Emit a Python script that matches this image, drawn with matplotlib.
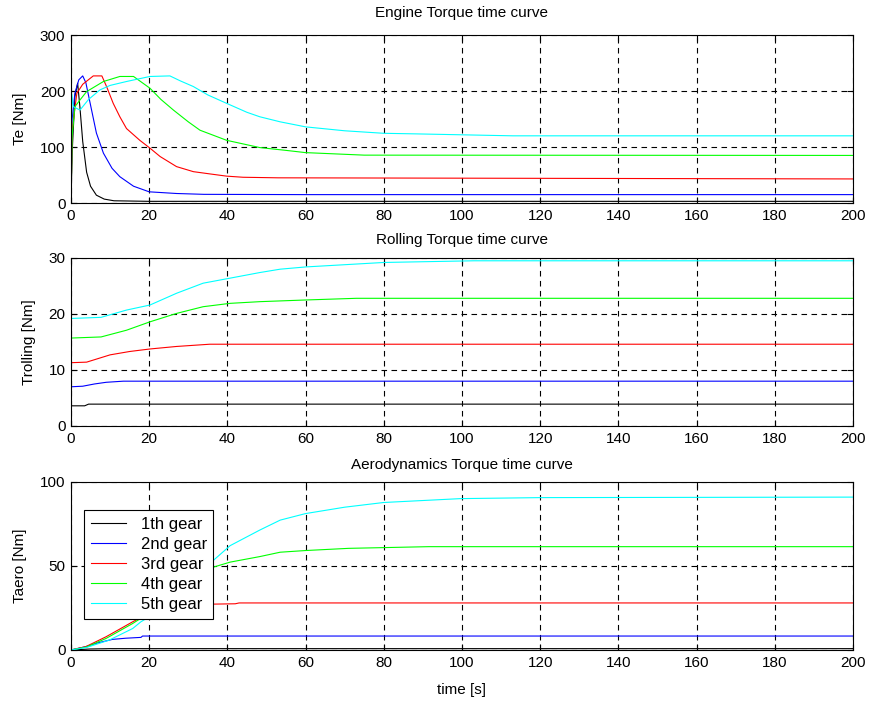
import matplotlib
matplotlib.use("Agg")
import matplotlib.pyplot as plt

# ============================================================
# DATA
# ============================================================
gear_labels = ["1th gear", "2nd gear", "3rd gear", "4th gear", "5th gear"]
gear_colors = ["#000000", "#0000ff", "#ff0000", "#00ff00", "#00ffff"]

# --- Engine torque Te [Nm] ---
te_t1 = [0, 0.3, 1.0, 1.7, 2.3, 3.0, 4.0, 5.0, 6.5, 8.5, 11, 20, 200]
te_v1 = [0, 90, 190, 214, 170, 110, 55, 30, 14, 7, 4, 3, 3]
te_t2 = [0, 0.3, 1.0, 2.0, 3.0, 3.8, 5.0, 6.5, 8.3, 10.5, 12.5, 16, 20, 27, 34, 60, 200]
te_v2 = [0, 150, 196, 220, 227, 215, 175, 125, 89, 62, 47, 30, 20, 17, 15.5, 15, 15]
te_t3 = [0, 0.3, 1.5, 3.0, 5.7, 7.9, 9.1, 10.8, 12.5, 14.2, 17.6, 20.2, 22.8, 27, 31.3, 35.5, 39.8, 44, 53, 200]
te_v3 = [0, 130, 196, 212, 227, 227, 208, 178, 154, 133, 112, 98, 83, 65, 56, 52, 48, 46, 45, 43]
te_t4 = [0, 0.3, 1.0, 2.3, 4.0, 8.3, 12.5, 16, 20.2, 23, 26.2, 30, 33, 39.8, 48.3, 55, 60, 65, 75, 200]
te_v4 = [0, 120, 172, 184, 199, 217, 226, 226, 205, 185, 166, 145, 130, 112, 99, 94, 90, 88.5, 85.5, 85]
te_t5 = [0, 0.2, 0.6, 2.3, 4.5, 7.4, 10, 14.2, 20.2, 25.3, 28, 31.3, 35, 39.8, 45, 48.3, 53.5, 60, 70, 80, 88, 113, 200]
te_v5 = [0, 195, 172, 166, 185, 202, 210, 217, 226, 227, 218, 208, 193, 178, 162, 154, 145, 136, 129, 124.5, 123.5, 120, 120]

# --- Rolling torque Trolling [Nm] ---
tr_t1 = [0, 3.5, 4.5, 200]
tr_v1 = [3.6, 3.6, 3.9, 3.9]
tr_t2 = [0, 3, 6, 9, 13.4, 200]
tr_v2 = [7.0, 7.1, 7.5, 7.8, 8.0, 8.0]
tr_t3 = [0, 4, 10, 15, 20.2, 27, 35.5, 45, 200]
tr_v3 = [11.3, 11.4, 12.7, 13.3, 13.75, 14.2, 14.6, 14.6, 14.6]
tr_t4 = [0, 7.7, 14.2, 20.2, 27, 33.8, 40.7, 48.3, 60, 73, 200]
tr_v4 = [15.7, 15.9, 17.1, 18.6, 20.1, 21.3, 21.9, 22.2, 22.5, 22.8, 22.8]
tr_t5 = [0, 7.7, 14.2, 20.2, 27, 33.8, 40.7, 48.3, 53.5, 60, 80, 103, 200]
tr_v5 = [19.2, 19.4, 20.7, 21.6, 23.7, 25.5, 26.4, 27.4, 28.0, 28.4, 29.2, 29.5, 29.5]

# --- Aerodynamic torque Taero [Nm] ---
ta_t1 = [0, 5, 10, 200]
ta_v1 = [0, 0.6, 0.8, 0.8]
ta_t2 = [0, 3.8, 7, 10.6, 14, 17.9, 18.3, 200]
ta_v2 = [0, 2, 4.3, 6.3, 7, 7.5, 8.3, 8.3]
ta_t3 = [0, 3.8, 9, 15.8, 20, 23, 27, 36.4, 42, 43, 200]
ta_v3 = [0, 2, 7.9, 16.8, 22, 25, 27, 27.3, 27.5, 28, 28]
ta_t4 = [0, 4, 9, 15.8, 20, 25, 30, 36.4, 40.7, 48.3, 53.5, 60, 71, 91.5, 200]
ta_v4 = [0, 1.8, 6.9, 15.8, 22, 30, 39, 49.3, 52.3, 55.6, 58.2, 59.2, 60.5, 61.5, 61.5]
ta_t5 = [0, 4, 9.8, 15.8, 17.9, 20.2, 25, 30, 36.4, 40.7, 48.3, 53.5, 60, 70, 80, 99.6, 120, 200]
ta_v5 = [0, 1.5, 5.9, 12.8, 16.8, 20, 30, 41, 53.3, 62.1, 71.4, 77.3, 81.2, 85, 87.8, 90.1, 90.7, 91]

x_ticks = [0, 20, 40, 60, 80, 100, 120, 140, 160, 180, 200]

# ============================================================
# FIGURE
# ============================================================
plt.rcParams["font.family"] = ["Liberation Sans", "DejaVu Sans"]
plt.rcParams["font.size"] = 11

fig = plt.figure(figsize=(8.72, 7.02), dpi=100)
left, width = 0.0814, 0.8968
ax_top = fig.add_axes([left, 0.7108, width, 0.2393])
ax_mid = fig.add_axes([left, 0.3932, width, 0.2393])
ax_bot = fig.add_axes([left, 0.0741, width, 0.2393])

panels = [
    (ax_top, [(te_t1, te_v1), (te_t2, te_v2), (te_t3, te_v3), (te_t4, te_v4), (te_t5, te_v5)],
     "Engine Torque time curve", "Te [Nm]", (0, 300), [0, 100, 200, 300], 13),
    (ax_mid, [(tr_t1, tr_v1), (tr_t2, tr_v2), (tr_t3, tr_v3), (tr_t4, tr_v4), (tr_t5, tr_v5)],
     "Rolling Torque time curve", "Trolling [Nm]", (0, 30), [0, 10, 20, 30], 10),
    (ax_bot, [(ta_t1, ta_v1), (ta_t2, ta_v2), (ta_t3, ta_v3), (ta_t4, ta_v4), (ta_t5, ta_v5)],
     "Aerodynamics Torque time curve", "Taero [Nm]", (0, 100), [0, 50, 100], 9.5),
]

for ax, series, title, ylabel, ylim, yticks, tpad in panels:
    for (t, v), c, lab in zip(series, gear_colors, gear_labels):
        ax.plot(t, v, color=c, linewidth=0.8, label=lab)
    ax.set_xlim(0, 200)
    ax.set_ylim(*ylim)
    ax.set_xticks(x_ticks)
    ax.set_yticks(yticks)
    ax.set_title(title, fontsize=11, pad=tpad)
    ax.set_ylabel(ylabel, fontsize=11, labelpad=9)
    # MATLAB-like dashed grid and inward ticks on every side
    ax.grid(True, color="black", linestyle=(0, (5, 4)), linewidth=0.8)
    ax.tick_params(direction="in", top=True, right=True, length=4, width=0.8,
                   labelsize=11, pad=4)
    for sp in ax.spines.values():
        sp.set_linewidth(0.8)

ax_bot.set_xlabel("time [s]", fontsize=11, labelpad=9.5)
fig.align_ylabels([ax_top, ax_mid, ax_bot])

leg = ax_bot.legend(loc="upper left", bbox_to_anchor=(0.008, 0.87), fancybox=False,
                    framealpha=1, edgecolor="black", fontsize=12, handlelength=2.1,
                    borderpad=0.4, labelspacing=0.3, handletextpad=0.9,
                    borderaxespad=0.4)
leg.get_frame().set_linewidth(0.8)

fig.savefig("out.png", dpi=100)
